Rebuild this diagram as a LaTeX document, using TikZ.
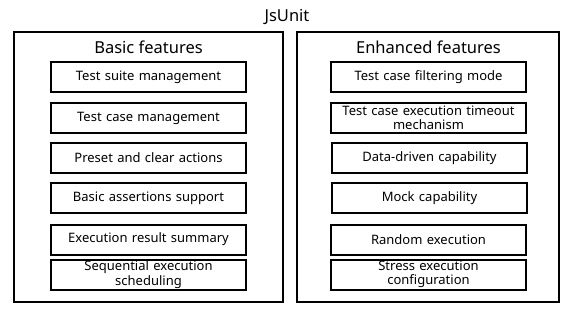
\documentclass[tikz,border=0pt]{standalone}
\usepackage{fontspec}
\setmainfont{Noto Sans}

\begin{document}
\begin{tikzpicture}[
    x=1pt,
    y=-1pt,
    frame/.style={draw=black,line width=2pt,inner sep=0pt},
    feature/.style={draw=black,line width=2pt,minimum width=195pt,minimum height=30pt,
        inner sep=0pt,align=center,text width=192pt,font=\fontsize{13}{14.5}\selectfont},
    heading/.style={font=\fontsize{16.5}{18}\selectfont}
]
\useasboundingbox (0,0) rectangle (574,313);

% Title and outer frames.
\node[heading] (title) at (287,17) {JsUnit};
\node[frame,minimum width=269pt,minimum height=270pt] (basic) at (148.5,167) {};
\node[frame,minimum width=262pt,minimum height=270pt] (enhanced) at (428,167) {};

% Frame headings.
\node[heading] (basichead) at (148.5,47) {Basic features};
\node[heading] (enhancedhead) at (428.5,47) {Enhanced features};

% Basic feature boxes.
\node[feature] (b1) at (148.5,77) {Test suite management};
\node[feature] (b2) at (148.5,118) {Test case management};
\node[feature] (b3) at (148.5,158) {Preset and clear actions};
\node[feature] (b4) at (148.5,198) {Basic assertions support};
\node[feature] (b5) at (148.5,239.5) {Execution result summary};
\node[feature] (b6) at (148.5,274.5) {Sequential execution\\scheduling};

% Enhanced feature boxes.
\node[feature] (e1) at (428.5,77) {Test case filtering mode};
\node[feature] (e2) at (428.5,118) {Test case execution timeout\\mechanism};
\node[feature] (e3) at (429.5,158) {Data-driven capability};
\node[feature] (e4) at (429.5,198) {Mock capability};
\node[feature] (e5) at (428.5,239.5) {Random execution};
\node[feature] (e6) at (428.5,274.5) {Stress execution\\configuration};

\end{tikzpicture}
\end{document}
